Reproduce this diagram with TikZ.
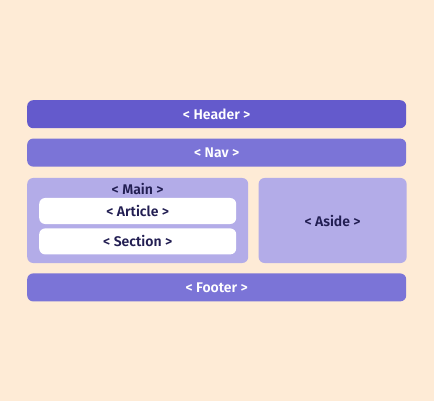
\documentclass[tikz,border=0pt]{standalone}
\usepackage{fontspec}
\newfontfamily\boxfont{Fira Sans}[BoldFont={* SemiBold}]
\usetikzlibrary{positioning}
\definecolor{bgpeach}{HTML}{FEEBD6}
\definecolor{headcol}{HTML}{645ACC}
\definecolor{navcol}{HTML}{7B74D7}
\definecolor{lightcol}{HTML}{B3ACE8}
\definecolor{inkcol}{HTML}{221E52}

\begin{document}
\begin{tikzpicture}[
  x=1pt,y=-1pt,
  node distance=10pt and 10pt,
  bar/.style={rounded corners=6pt,minimum width=379pt,minimum height=28pt,inner sep=0pt,text=white},
  panel/.style={rounded corners=6pt,fill=lightcol,inner sep=0pt,minimum height=85pt},
  card/.style={rounded corners=6pt,fill=white,inner sep=0pt,minimum width=197pt,minimum height=26pt,text=inkcol},
  font=\boxfont\bfseries\fontsize{14}{16}\selectfont
]
\useasboundingbox[fill=bgpeach] (0,0) rectangle (434,401);
\node[bar,fill=headcol,anchor=north west] (header) at (27,100) {< Header >};
\node[bar,fill=navcol,below=10pt of header] (nav) {< Nav >};
\node[panel,minimum width=221pt,below right=11pt and 0pt of nav.south west] (main) {};
\node[panel,minimum width=148pt,right=10pt of main,text=inkcol] (aside) {< Aside >};
\node[text=inkcol,below=11pt of main.north,anchor=center] (mainlbl) {< Main >};
\node[card,below=20pt of main.north] (article) {< Article >};
\node[card,below=4pt of article] (section) {< Section >};
\node[bar,fill=navcol,below right=10pt and 0pt of main.south west] (footer) {< Footer >};
\end{tikzpicture}
\end{document}
